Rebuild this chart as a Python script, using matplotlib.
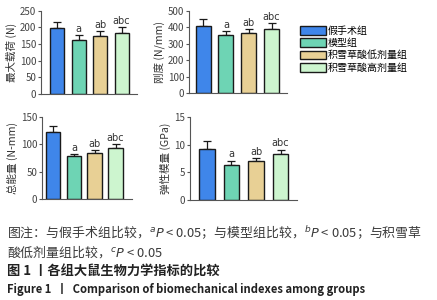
import matplotlib
matplotlib.use("Agg")
import matplotlib.pyplot as plt
from matplotlib.patches import Patch

plt.rcParams['font.family'] = ['Noto Sans CJK SC', 'DejaVu Sans']
plt.rcParams['mathtext.fontset'] = 'dejavusans'

groups = ["假手术组", "模型组", "积雪草酸低剂量组", "积雪草酸高剂量组"]
colors = ["#3f86ea", "#6ed4b4", "#e8d095", "#cdf5cf"]
marks = ["", "a", "ab", "abc"]

load_mean = [198, 162, 173, 183]
load_err = [17, 15, 15, 18]
stiff_mean = [410, 350, 362, 387]
stiff_err = [42, 25, 26, 38]
energy_mean = [122, 79, 84, 93]
energy_err = [12, 3, 6, 8]
modulus_mean = [9.2, 6.4, 7.1, 8.4]
modulus_err = [1.4, 0.7, 0.5, 0.7]

panels = [
    # values, errors, ylabel, ymax, yticks, rect, xlim, bar width
    (load_mean, load_err, "最大载荷 (N)", 250, [0, 50, 100, 150, 200, 250],
     [0.0938, 0.6867, 0.2197, 0.2777], (-0.75, 3.72), 0.65),
    (stiff_mean, stiff_err, "刚度 (N/mm)", 500, [0, 100, 200, 300, 400, 500],
     [0.4325, 0.69, 0.224, 0.2743], (-0.62, 3.67), 0.66),
    (energy_mean, energy_err, "总能量 (N-mm)", 150, [0, 50, 100, 150],
     [0.0961, 0.3367, 0.206, 0.2733], (-0.53, 3.79), 0.70),
    (modulus_mean, modulus_err, "弹性模量 (GPa)", 15, [0, 5, 10, 15],
     [0.4348, 0.3333, 0.2449, 0.2767], (-0.69, 3.67), 0.63),
]

fig = plt.figure(figsize=(4.37, 3.0), dpi=100)

for vals, errs, ylab, ymax, yt, rect, xl, bw in panels:
    ax = fig.add_axes(rect)
    xs = range(len(vals))
    ax.bar(xs, vals, width=bw, color=colors, edgecolor="#1a1a1a", linewidth=1.0, zorder=2)
    ax.errorbar(xs, vals, yerr=[[0] * len(vals), errs], fmt="none",
                ecolor="#1a1a1a", elinewidth=0.9, capsize=3, capthick=0.9, zorder=1)
    for x, v, e, m in zip(xs, vals, errs, marks):
        if m:
            ax.text(x, v + e + ymax * 0.015, m, ha="center", va="bottom",
                    fontsize=7, color="#333333", family="DejaVu Sans")
    ax.set_xlim(*xl)
    ax.set_ylim(0, ymax)
    ax.set_yticks(yt)
    ax.set_xticks([])
    ax.spines["top"].set_visible(False)
    ax.spines["right"].set_visible(False)
    for s in ("left", "bottom"):
        ax.spines[s].set_color("#555555")
        ax.spines[s].set_linewidth(0.8)
    ax.tick_params(axis="y", length=2.5, width=0.8, colors="#555555",
                   labelsize=7, pad=1)
    for lab in ax.get_yticklabels():
        lab.set_color("#444444")
    ax.set_ylabel(ylab, fontsize=7.6, color="#333333", labelpad=2)

handles = [Patch(facecolor=c, edgecolor="#1a1a1a", linewidth=1.0) for c in colors]
fig.legend(handles, groups, loc="upper left", bbox_to_anchor=(0.675, 0.93),
           frameon=False, fontsize=7.2, handlelength=2.6, handleheight=1.0,
           handletextpad=0.2, labelspacing=0.22, borderpad=0)

txt = "#3a3a3a"
fig.text(0.016, 1 - 232 / 300,
         "图注：与假手术组比较，$^{a}P$ < 0.05；与模型组比较，$^{b}P$ < 0.05；与积雪草",
         fontsize=9.3, color=txt, va="center", ha="left")
fig.text(0.016, 1 - 252 / 300, "酸低剂量组比较，$^{c}P$ < 0.05",
         fontsize=9.3, color=txt, va="center", ha="left")
fig.text(0.016, 1 - 272 / 300, "图 1 丨各组大鼠生物力学指标的比较",
         fontsize=9.5, color="#222222", va="center", ha="left", fontweight="bold")
fig.text(0.016, 1 - 289 / 300,
         "Figure 1  丨  Comparison of biomechanical indexes among groups",
         fontsize=8.1, color="#222222", va="center", ha="left", fontweight="bold")

fig.savefig("out.png", dpi=100)
